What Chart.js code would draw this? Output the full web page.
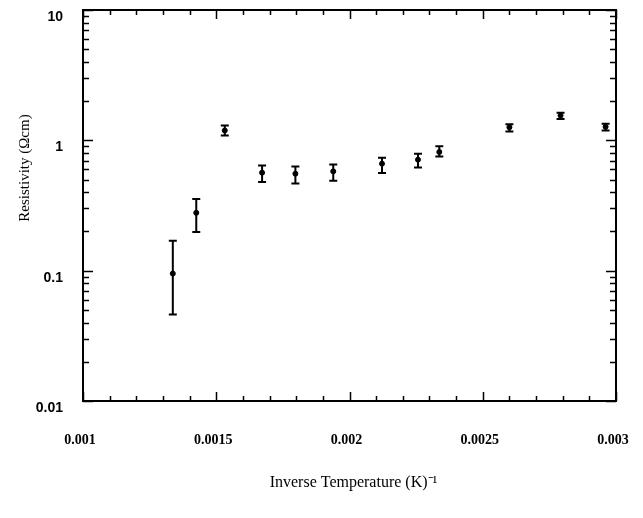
<!DOCTYPE html>
<html><head><meta charset="utf-8">
<script src="https://cdn.jsdelivr.net/npm/chart.js@4/dist/chart.umd.min.js"></script>
<style>html,body{margin:0;padding:0;background:#fff}</style>
</head><body>
<canvas id="c" width="643" height="518" style="width:643px;height:518px;display:block"></canvas>
<script>
// Data
const invTemp     = [0.001337, 0.001425, 0.001532, 0.001672, 0.001797, 0.001939, 0.002122, 0.002257, 0.002337, 0.002600, 0.002792, 0.002961];
const resistivity = [0.095,    0.278,    1.19,     0.565,    0.555,    0.578,    0.662,    0.711,    0.814,    1.26,     1.55,     1.27];
const errLow      = [0.046,    0.198,    1.09,     0.478,    0.467,    0.490,    0.561,    0.620,    0.750,    1.17,     1.46,     1.19];
const errHigh     = [0.170,    0.354,    1.30,     0.642,    0.630,    0.653,    0.736,    0.790,    0.900,    1.33,     1.63,     1.34];
const xTickValues = [0.001, 0.0015, 0.002, 0.0025, 0.003];
const xTickLabels = ['0.001', '0.0015', '0.002', '0.0025', '0.003'];
const yTickValues = [0.01, 0.1, 1, 10];
const yTickLabels = ['0.01', '0.1', '1', '10'];

function labelFor(v, vals, labs) {
  for (let i = 0; i < vals.length; i++) {
    if (Math.abs(v - vals[i]) <= vals[i] * 1e-6) return labs[i];
  }
  return '';
}

const boxAndTicks = {
  id: 'boxAndTicks',
  afterDatasetsDraw(chart) {
    const ctx = chart.ctx, ca = chart.chartArea;
    const xs = chart.scales.x, ys = chart.scales.y;
    ctx.save();
    // error bars
    ctx.strokeStyle = '#000';
    ctx.lineWidth = 2;
    for (let i = 0; i < invTemp.length; i++) {
      const px = xs.getPixelForValue(invTemp[i]);
      const pl = ys.getPixelForValue(errLow[i]);
      const ph = ys.getPixelForValue(errHigh[i]);
      ctx.beginPath();
      ctx.moveTo(px, pl); ctx.lineTo(px, ph);
      ctx.moveTo(px - 4, pl); ctx.lineTo(px + 4, pl);
      ctx.moveTo(px - 4, ph); ctx.lineTo(px + 4, ph);
      ctx.stroke();
    }
    // frame
    ctx.lineWidth = 2;
    ctx.strokeRect(ca.left, ca.top, ca.right - ca.left, ca.bottom - ca.top);
    // inward ticks
    ctx.lineWidth = 1.5;
    ctx.beginPath();
    xs.ticks.forEach(t => {
      const px = Math.round(xs.getPixelForValue(t.value)) + 0.5;
      const major = labelFor(t.value, xTickValues, xTickLabels) !== '';
      const len = major ? 9 : 5;
      ctx.moveTo(px, ca.bottom); ctx.lineTo(px, ca.bottom - len);
      ctx.moveTo(px, ca.top); ctx.lineTo(px, ca.top + len);
    });
    ys.ticks.forEach(t => {
      const py = Math.round(ys.getPixelForValue(t.value)) + 0.5;
      const major = labelFor(t.value, yTickValues, yTickLabels) !== '';
      const len = major ? 10 : 6;
      ctx.moveTo(ca.left, py); ctx.lineTo(ca.left + len, py);
      ctx.moveTo(ca.right, py); ctx.lineTo(ca.right - len, py);
    });
    ctx.stroke();
    ctx.restore();
  }
};

new Chart(document.getElementById('c'), {
  type: 'scatter',
  data: {
    datasets: [{
      data: invTemp.map((x, i) => ({ x: x, y: resistivity[i] })),
      backgroundColor: '#000',
      borderColor: '#000',
      pointRadius: 2.5,
      pointHoverRadius: 2.5,
      showLine: false
    }]
  },
  options: {
    responsive: false,
    animation: false,
    devicePixelRatio: 1,
    layout: { padding: { top: 10, right: 27, left: 0, bottom: 0 } },
    plugins: { legend: { display: false }, tooltip: { enabled: false } },
    scales: {
      x: {
        type: 'linear',
        min: 0.001, max: 0.003,
        afterFit: s => { s.height = 117; s.paddingLeft = 0; s.paddingRight = 0; },
        grid: { display: false, drawTicks: false },
        border: { display: false },
        ticks: {
          stepSize: 0.0001,
          autoSkip: false,
          maxRotation: 0,
          padding: 31,
          labelOffset: -3,
          color: '#000',
          font: { family: 'Liberation Serif', weight: 'bold', size: 14 },
          callback: v => labelFor(v, xTickValues, xTickLabels)
        },
        title: {
          display: true,
          text: '  Inverse Temperature (K)\u207B\u00B9',
          color: '#000',
          font: { family: 'Liberation Serif', size: 16 },
          padding: { top: 0, bottom: 26 }
        }
      },
      y: {
        type: 'logarithmic',
        min: 0.01, max: 10,
        afterFit: s => { s.width = 83; s.paddingTop = 0; s.paddingBottom = 0; },
        afterBuildTicks: s => {
          const t = [];
          for (let i = 0; i < yTickValues.length - 1; i++) {
            for (let k = 1; k <= 9; k++) t.push({ value: yTickValues[i] * k });
          }
          t.push({ value: yTickValues[yTickValues.length - 1] });
          s.ticks = t;
        },
        grid: { display: false, drawTicks: false },
        border: { display: false },
        ticks: {
          autoSkip: false,
          padding: 20,
          labelOffset: 7,
          color: '#000',
          font: { family: 'Liberation Sans', weight: 'bold', size: 14 },
          callback: v => labelFor(v, yTickValues, yTickLabels)
        },
        title: {
          display: true,
          text: ' '.repeat(20) + 'Resistivity (\u03A9cm)',
          color: '#000',
          font: { family: 'Liberation Serif', size: 15 },
          padding: { top: 16, bottom: 0 }
        }
      }
    }
  },
  plugins: [boxAndTicks]
});
</script>
</body></html>
